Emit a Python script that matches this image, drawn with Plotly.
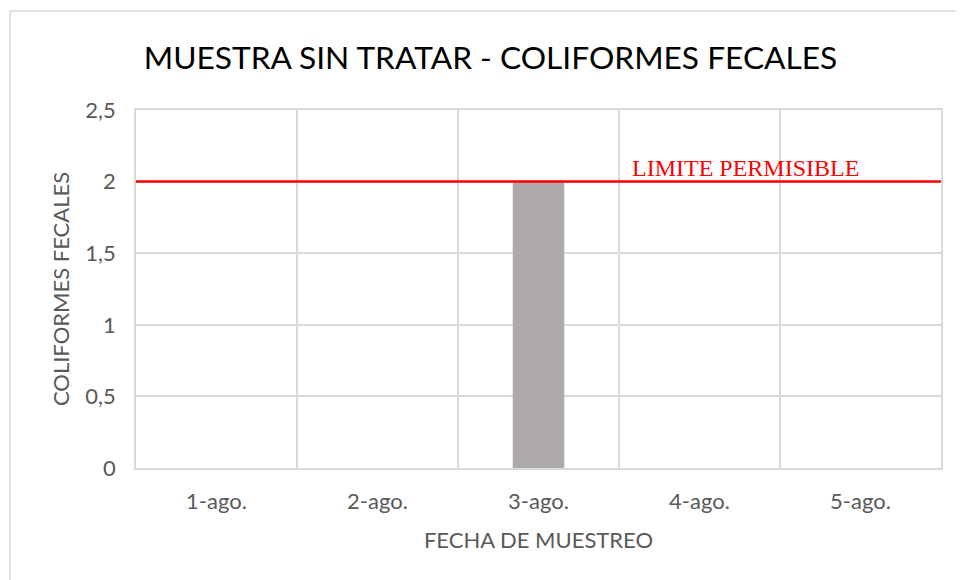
import plotly.graph_objects as go

categories = ["1-ago.", "2-ago.", "3-ago.", "4-ago.", "5-ago."]
values = [0, 0, 2, 0, 0]
limit_value = 2
limit_label = "LIMITE PERMISIBLE"
y_ticks = [0, 0.5, 1, 1.5, 2, 2.5]
y_tick_labels = ["0", "0,5", "1", "1,5", "2", "2,5"]

font_main = "Lato, 'Open Sans', sans-serif"
grey_text = "#595959"
grid = "#D9D9D9"

fig = go.Figure()
fig.add_trace(go.Bar(x=categories, y=values, marker=dict(color="#AEAAAA", line=dict(width=0)),
                     showlegend=False, hoverinfo="x+y"))

fig.add_shape(type="line", xref="paper", x0=0, x1=1, yref="y", y0=limit_value, y1=limit_value,
              line=dict(color="#FF0000", width=2.5), layer="above")
fig.add_annotation(xref="paper", x=0.757, xanchor="center", yref="y", y=limit_value, yanchor="bottom",
                   yshift=-1, text=limit_label, showarrow=False,
                   font=dict(family="'Liberation Serif', 'Times New Roman', serif", size=24, color="#FF0000"))

# outer chart border
fig.add_shape(type="rect", xref="paper", yref="paper", x0=-126/805, x1=1.2, y0=-0.6, y1=(460-3)/358,
              line=dict(color="#D9D9D9", width=1.5), fillcolor="rgba(0,0,0,0)", layer="below")

fig.update_layout(
    width=964, height=580,
    margin=dict(l=128, r=31, t=102, b=120),
    paper_bgcolor="white", plot_bgcolor="white",
    bargap=0.68,
    title=dict(text="MUESTRA SIN TRATAR - COLIFORMES FECALES", x=482.5/964, xanchor="center",
               y=1-50/580, yanchor="middle",
               font=dict(family=font_main, size=31.7, color="#000000")),
    font=dict(family=font_main, color=grey_text),
)
fig.update_xaxes(
    type="category", tickson="boundaries", showgrid=True, gridcolor=grid, gridwidth=1.5,
    showline=True, linecolor=grid, linewidth=1.5, mirror=True, ticks="",
    tickfont=dict(size=22, color=grey_text), ticklabelstandoff=13,
    title=dict(text="FECHA DE MUESTREO", font=dict(size=22, color=grey_text), standoff=19),
)
fig.update_yaxes(
    range=[0, 2.5], tickvals=y_ticks, ticktext=y_tick_labels, showgrid=True, gridcolor=grid, gridwidth=1.5,
    showline=True, linecolor=grid, linewidth=1.5, mirror=True, ticks="", zeroline=False,
    tickfont=dict(size=22, color=grey_text), ticklabelstandoff=14,
    title=dict(text="COLIFORMES FECALES", font=dict(size=22, color=grey_text), standoff=10),
)

fig.write_html("out.html")
